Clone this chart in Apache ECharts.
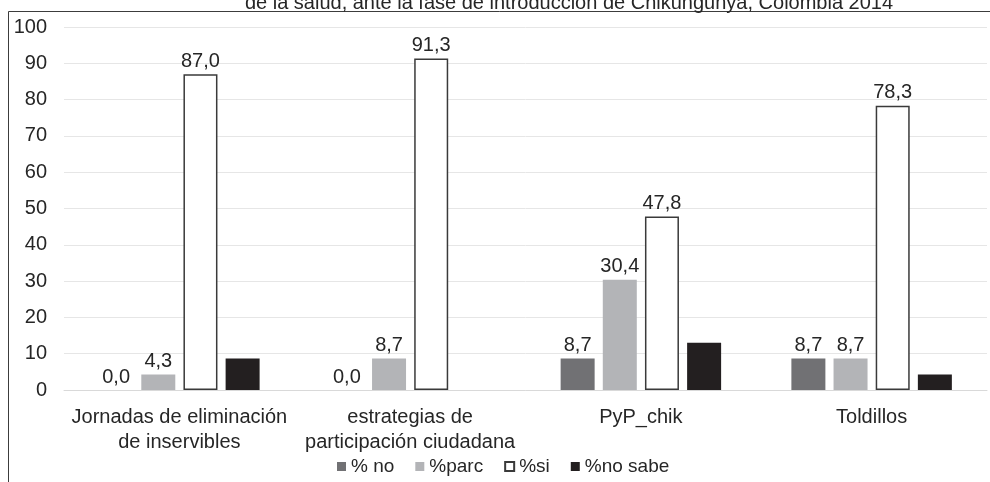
<!DOCTYPE html>
<html>
<head>
<meta charset="utf-8">
<script src="https://cdn.jsdelivr.net/npm/echarts@6/dist/echarts.min.js"></script>
<style>
  html, body { margin: 0; padding: 0; background: #fff; }
  #chart { width: 990px; height: 482px; }
</style>
</head>
<body>
<div id="chart"></div>
<script>
// Categories and percentages per answer type
const categories = [
  'Jornadas de eliminación\nde inservibles',
  'estrategias de\nparticipación ciudadana',
  'PyP_chik',
  'Toldillos'
];
const pctNo = [0.0, 0.0, 8.7, 8.7];
const pctParc = [4.3, 8.7, 30.4, 8.7];
const pctSi = [87.0, 91.3, 47.8, 78.3];
const pctNoSabe = [8.7, 0.0, 13.0, 4.3];
const yTicks = [0, 10, 20, 30, 40, 50, 60, 70, 80, 90, 100];

const FONT = '"Liberation Sans", Arial, sans-serif';
const TXT = '#262626';

const fmt = v => v.value.toFixed(1).replace('.', ',');
const valueLabel = {
  show: true, position: 'top', distance: 3,
  formatter: fmt, fontFamily: FONT, fontSize: 20, color: TXT
};

const chart = echarts.init(document.getElementById('chart'), null, { renderer: 'canvas' });
chart.setOption({
  animation: false,
  backgroundColor: '#fff',
  title: {
    text: 'de la salud, ante la fase de introducción de Chikungunya, Colombia 2014',
    left: 564, top: -12, textAlign: 'center',
    textStyle: { fontFamily: FONT, fontSize: 20, fontWeight: 'normal', color: TXT }
  },
  graphic: [{
    type: 'rect', silent: true,
    shape: { x: 8.5, y: 11.5, width: 1000, height: 500 },
    style: { fill: null, stroke: '#3c3c3c', lineWidth: 1 }
  }],
  grid: { left: 64, right: 3, top: 27, bottom: 92, containLabel: false },
  legend: {
    left: 337, top: 457, padding: 0,
    itemWidth: 9, itemHeight: 9, itemGap: 21,
    icon: 'rect',
    textStyle: { fontFamily: FONT, fontSize: 19, color: TXT },
    data: ['% no', '%parc', '%si', '%no sabe']
  },
  xAxis: {
    type: 'category',
    data: categories,
    axisLine: { lineStyle: { color: '#d9d9d9', width: 1 } },
    axisTick: { show: false },
    axisLabel: {
      interval: 0, margin: 15, fontFamily: FONT, fontSize: 20,
      color: TXT, lineHeight: 25
    }
  },
  yAxis: {
    type: 'value', min: yTicks[0], max: yTicks[yTicks.length - 1], interval: 10,
    axisLine: { show: false }, axisTick: { show: false },
    splitLine: { lineStyle: { color: '#e6e6e6', width: 1 } },
    axisLabel: { margin: 17, fontFamily: FONT, fontSize: 20, color: TXT }
  },
  series: [
    {
      name: '% no', type: 'bar', data: pctNo, barWidth: 34, barGap: '24%',
      itemStyle: { color: '#717174' },
      label: valueLabel
    },
    {
      name: '%parc', type: 'bar', data: pctParc, barWidth: 34, barGap: '24%',
      itemStyle: { color: '#b3b4b7' },
      label: valueLabel
    },
    {
      name: '%si', type: 'bar', data: pctSi, barWidth: 34, barGap: '24%',
      itemStyle: { color: '#ffffff', borderColor: '#3a3a3a', borderWidth: 1.5 },
      label: valueLabel
    },
    {
      name: '%no sabe', type: 'bar', data: pctNoSabe, barWidth: 34, barGap: '24%',
      itemStyle: { color: '#231f20' },
      label: { show: false }
    }
  ]
});
</script>
</body>
</html>
